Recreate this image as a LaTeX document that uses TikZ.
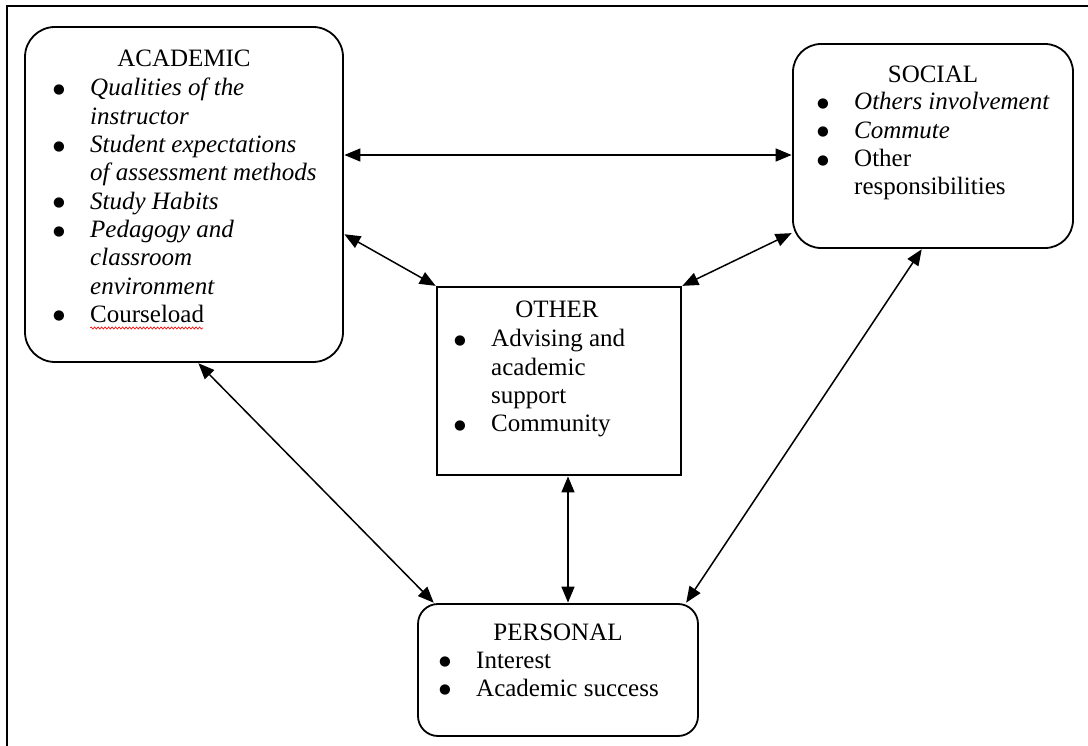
\documentclass[tikz,border=0pt]{standalone}
\usepackage{fontspec}
\setmainfont{Liberation Serif}
\newfontfamily\symfont{DejaVu Sans}
\usetikzlibrary{arrows.meta,decorations.pathmorphing}

\newcommand{\bul}{\raisebox{2.4pt}{\symfont\fontsize{13.5}{13.5}\selectfont ●}}

\tikzset{
  roundbox/.style={draw, line width=1.8pt, inner sep=0pt},
  head/.style={anchor=base, inner sep=0pt, font=\fontsize{25}{28.3}\selectfont},
  items/.style={anchor=base west, inner sep=0pt, font=\fontsize{25}{28.3}\selectfont},
  link/.style={line width=1.5pt, {Triangle[length=16pt,width=13pt]}-{Triangle[length=16pt,width=13pt]}, shorten <=0.5pt, shorten >=0.5pt}
}

\begin{document}
\begin{tikzpicture}[x=1pt, y=-1pt]
  % Page size and the cut frame
  \useasboundingbox (0,0) rectangle (1088,746);
  \draw[line width=2.8pt] (1095,6) -- (7,6) -- (7,760);

  % The four boxes
  \node[roundbox, rounded corners=30pt, minimum width=318pt, minimum height=335pt] (academic) at (184,194.5) {};
  \node[roundbox, rounded corners=28pt, minimum width=280pt, minimum height=204pt] (social) at (933,146) {};
  \node[roundbox, minimum width=244pt, minimum height=188pt] (other) at (559,381) {};
  \node[roundbox, rounded corners=20pt, minimum width=280pt, minimum height=132pt] (personal) at (558,670) {};

  % Academic
  \node[head] (academic-head) at (184,67) {ACADEMIC};
  \node[items] (academic-items) at (53,96) {\begin{tabular}[t]{@{}p{37pt}@{}l@{}}
    \bul & \textit{Qualities of the}\\
         & \textit{instructor}\\
    \bul & \textit{Student expectations}\\
         & \textit{of assessment methods}\\
    \bul & \textit{Study Habits}\\
    \bul & \textit{Pedagogy and}\\
         & \textit{classroom}\\
         & \textit{environment}\\
    \bul & Courseload
  \end{tabular}};
  \draw[red, line width=0.6pt, decorate, decoration={snake, amplitude=1.1pt, segment length=3.5pt}] (90,328) -- (203,328);

  % Social
  \node[head] (social-head) at (933,83) {SOCIAL};
  \node[items] (social-items) at (817,110) {\begin{tabular}[t]{@{}p{37pt}@{}l@{}}
    \bul & \textit{Others involvement}\\
    \bul & \textit{Commute}\\
    \bul & Other\\
         & responsibilities
  \end{tabular}};

  % Other
  \node[head] (other-head) at (557,318) {OTHER};
  \node[items] (other-items) at (454,347) {\begin{tabular}[t]{@{}p{37pt}@{}l@{}}
    \bul & Advising and\\
         & academic\\
         & support\\
    \bul & Community
  \end{tabular}};

  % Personal
  \node[head] (personal-head) at (558,640) {PERSONAL};
  \node[items] (personal-items) at (439,668) {\begin{tabular}[t]{@{}p{37pt}@{}l@{}}
    \bul & Interest\\
    \bul & Academic success
  \end{tabular}};

  % Two-way arrows
  \draw[link] ([yshift=39.5pt]academic.east) -- ([yshift=-9pt]social.west);
  \draw[link] ([yshift=-39.5pt]academic.east) -- (other.north west);
  \draw[link] ([yshift=16pt]social.south west) -- (other.north east);
  \draw[link] ([xshift=14pt]academic.south) -- ([xshift=17pt]personal.north west);
  \draw[link] ([xshift=9pt]other.south) -- ([xshift=10pt]personal.north);
  \draw[link] ([xshift=-11pt]social.south) -- ([xshift=-13pt]personal.north east);
\end{tikzpicture}
\end{document}
